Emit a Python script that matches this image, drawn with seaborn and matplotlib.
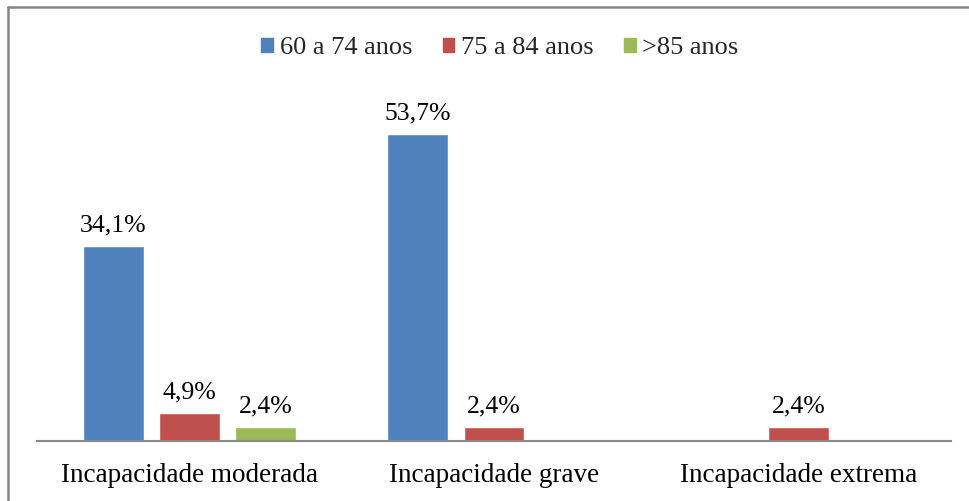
import matplotlib.pyplot as plt
import seaborn as sns
import pandas as pd
from matplotlib.lines import Line2D

categorias = ["Incapacidade moderada", "Incapacidade grave", "Incapacidade extrema"]
faixas = ["60 a 74 anos", "75 a 84 anos", ">85 anos"]
v_60_74 = [34.1, 53.7, None]
v_75_84 = [4.9, 2.4, 2.4]
v_85 = [2.4, None, None]
cores = ["#4F81BD", "#C0504D", "#9BBB59"]

linhas = []
for faixa, valores in zip(faixas, [v_60_74, v_75_84, v_85]):
    for cat, v in zip(categorias, valores):
        if v is not None:
            linhas.append({"categoria": cat, "faixa": faixa, "valor": v})
df = pd.DataFrame(linhas)

sns.set_style("white")
plt.rcParams["font.family"] = ["Liberation Serif", "DejaVu Serif"]

fig = plt.figure(figsize=(9.7, 5.01), dpi=100)
ax = fig.add_axes([37 / 970, 60 / 501, 914 / 970, 343 / 501])

sns.barplot(data=df, x="categoria", y="valor", hue="faixa", order=categorias,
            hue_order=faixas, palette=cores, width=0.75, gap=0.2, ax=ax,
            saturation=1, legend=False, errorbar=None)

for cont in ax.containers:
    rotulos = [f"{v:.1f}%".replace(".", ",") for v in cont.datavalues]
    ax.bar_label(cont, labels=rotulos, padding=7, fontsize=18.5, color="#000000")

ax.set_ylim(0, 60)
ax.set_xlim(-0.5, 2.5)
ax.set_xlabel("")
ax.set_ylabel("")
ax.set_yticks([])
ax.tick_params(axis="x", labelsize=19.5, length=0, pad=16, colors="#000000")
for lado in ["top", "right", "left"]:
    ax.spines[lado].set_visible(False)
ax.spines["bottom"].set_color("#888888")
ax.spines["bottom"].set_linewidth(1.5)

handles = [plt.Rectangle((0, 0), 1, 1, color=c) for c in cores]
fig.legend(handles, faixas, loc="center", bbox_to_anchor=(500 / 970, 1 - 48 / 501),
           ncol=3, frameon=False, fontsize=19, handlelength=0.45, handleheight=0.45,
           handletextpad=0.25, columnspacing=1.15)

# moldura (cortada a direita e embaixo)
fig.add_artist(Line2D([8.5 / 970, 8.5 / 970], [0, 1 - 6.5 / 501], color="#868686", lw=1.8))
fig.add_artist(Line2D([8.5 / 970, 1], [1 - 6.5 / 501, 1 - 6.5 / 501], color="#868686", lw=1.8))

fig.savefig("out.png", dpi=100)
